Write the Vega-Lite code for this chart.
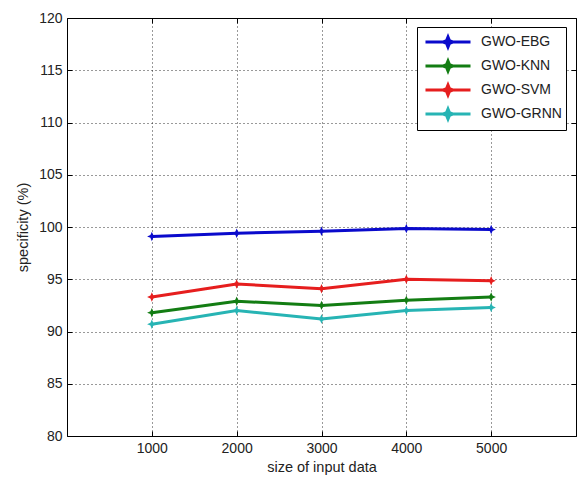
{
  "$schema": "https://vega.github.io/schema/vega-lite/v6.json",
  "autosize": {"type": "none"},
  "width": 509,
  "height": 418,
  "padding": {"left": 67, "top": 18, "right": 4, "bottom": 45},
  "background": "white",
  "config": {
    "font": "Liberation Sans",
    "view": {"stroke": "#000", "strokeWidth": 1},
    "axis": {
      "labelFont": "Liberation Sans",
      "titleFont": "Liberation Sans",
      "labelFontSize": 14,
      "titleFontSize": 14.5,
      "titleFontWeight": "normal",
      "labelColor": "#222",
      "titleColor": "#222",
      "domain": false,
      "tickColor": "#000",
      "tickSize": -5,
      "gridColor": "#000",
      "gridDash": [1, 3],
      "gridOpacity": 0.8,
      "gridWidth": 1
    }
  },
  "data": {
    "values": [
      {"size": 1000, "series": "GWO-EBG", "value": 99.1},
      {"size": 2000, "series": "GWO-EBG", "value": 99.4},
      {"size": 3000, "series": "GWO-EBG", "value": 99.6},
      {"size": 4000, "series": "GWO-EBG", "value": 99.85},
      {"size": 5000, "series": "GWO-EBG", "value": 99.75},
      {"size": 1000, "series": "GWO-KNN", "value": 91.8},
      {"size": 2000, "series": "GWO-KNN", "value": 92.9},
      {"size": 3000, "series": "GWO-KNN", "value": 92.5},
      {"size": 4000, "series": "GWO-KNN", "value": 93.0},
      {"size": 5000, "series": "GWO-KNN", "value": 93.3},
      {"size": 1000, "series": "GWO-SVM", "value": 93.3},
      {"size": 2000, "series": "GWO-SVM", "value": 94.55},
      {"size": 3000, "series": "GWO-SVM", "value": 94.1},
      {"size": 4000, "series": "GWO-SVM", "value": 95.0},
      {"size": 5000, "series": "GWO-SVM", "value": 94.85},
      {"size": 1000, "series": "GWO-GRNN", "value": 90.7},
      {"size": 2000, "series": "GWO-GRNN", "value": 92.0},
      {"size": 3000, "series": "GWO-GRNN", "value": 91.2},
      {"size": 4000, "series": "GWO-GRNN", "value": 92.0},
      {"size": 5000, "series": "GWO-GRNN", "value": 92.3}
    ]
  },
  "layer": [
    {
      "mark": {"type": "line", "strokeWidth": 3},
      "encoding": {
        "x": {
          "field": "size", "type": "quantitative",
          "scale": {"domain": [0, 6000], "nice": false},
          "axis": {"orient": "bottom", "values": [1000, 2000, 3000, 4000, 5000], "title": "size of input data", "labelPadding": 10, "titlePadding": 5, "format": "d"}
        },
        "y": {
          "field": "value", "type": "quantitative",
          "scale": {"domain": [80, 120], "nice": false, "zero": false},
          "axis": {"orient": "left", "values": [80, 85, 90, 95, 100, 105, 110, 115, 120], "title": "specificity (%)", "labelPadding": 10, "titlePadding": 8}
        },
        "color": {
          "field": "series", "type": "nominal",
          "scale": {"domain": ["GWO-EBG", "GWO-KNN", "GWO-SVM", "GWO-GRNN"], "range": ["#0a0acc", "#137d13", "#e61e1e", "#27b4b4"]},
          "legend": {
            "title": null,
            "orient": "none",
            "legendX": 350,
            "legendY": 9,
            "fillColor": "white",
            "strokeColor": "#000",
            "padding": 4,
            "labelFont": "Liberation Sans",
            "labelFontSize": 14,
            "labelColor": "#222",
            "rowPadding": 0,
            "symbolOffset": 16,
            "labelOffset": 22,
            "symbolSize": 361,
            "symbolStrokeWidth": 3,
            "symbolType": "M-2.37,0L2.37,0M0,-0.53L0.15,-0.15L0.53,0L0.15,0.15L0,0.53L-0.15,0.15L-0.53,0L-0.15,-0.15Z"
          }
        }
      }
    },
    {
      "mark": {"type": "point", "filled": true, "opacity": 1, "size": 90, "shape": "M0,-1L0.3,-0.3L1,0L0.3,0.3L0,1L-0.3,0.3L-1,0L-0.3,-0.3Z"},
      "encoding": {
        "x": {"field": "size", "type": "quantitative", "axis": {"orient": "top", "labels": false, "grid": false, "title": null, "values": [1000, 2000, 3000, 4000, 5000]}},
        "y": {"field": "value", "type": "quantitative", "axis": {"orient": "right", "labels": false, "grid": false, "title": null, "values": [80, 85, 90, 95, 100, 105, 110, 115, 120]}},
        "color": {"field": "series", "type": "nominal", "legend": null}
      }
    }
  ],
  "resolve": {"axis": {"x": "independent", "y": "independent"}}
}
